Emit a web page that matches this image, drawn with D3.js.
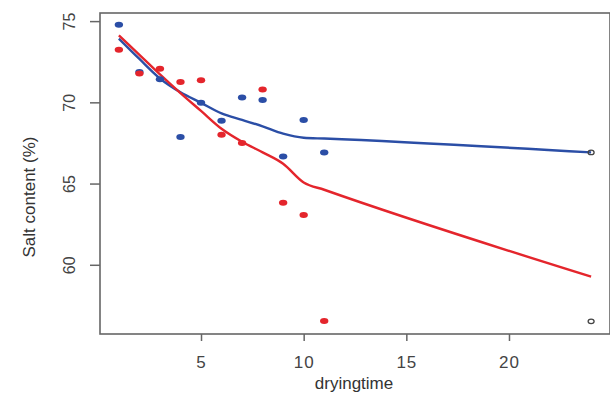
<!DOCTYPE html>
<html>
<head>
<meta charset="utf-8">
<script src="https://cdn.jsdelivr.net/npm/d3@7.9.0/dist/d3.min.js"></script>
<style>
  body { margin: 0; background: #fff; }
  svg { display: block; font-family: "Liberation Sans", Arial, sans-serif; }
</style>
</head>
<body>
<svg width="610" height="400"></svg>
<script>
const dryingTime = [1, 2, 3, 4, 5, 6, 7, 8, 9, 10, 11];
const blueSalt = [74.8, 71.9, 71.45, 67.9, 70.0, 68.9, 70.33, 70.17, 66.7, 68.95, 66.95];
const redSalt = [73.27, 71.8, 72.1, 71.29, 71.39, 68.03, 67.52, 70.82, 63.85, 63.09, 56.57];

const openTime = [24, 24];
const openSalt = [66.95, 56.55];

const fitTime = [1, 2, 3, 4, 5, 6, 7, 8, 9, 10, 11, 24];
const blueFit = [73.95, 72.7, 71.5, 70.65, 70.0, 69.35, 68.95, 68.55, 68.1, 67.85, 67.8, 66.95];
const redFit = [74.15, 72.95, 71.75, 70.6, 69.5, 68.4, 67.6, 66.95, 66.25, 65.1, 64.65, 59.3];

const xTicks = [5, 10, 15, 20];
const yTicks = [60, 65, 70, 75];

const blue = '#2b4ea6';
const red = '#e4252c';
const axisGrey = '#666';

const svg = d3.select('svg');
const x = d3.scaleLinear().domain([0.08, 24.92]).range([100, 610]);
const y = d3.scaleLinear().domain([55.77, 75.53]).range([334, 13]);

// box
svg.append('rect')
  .attr('x', 100).attr('y', 13)
  .attr('width', 510).attr('height', 321)
  .attr('fill', 'none').attr('stroke', axisGrey).attr('stroke-width', 1.6);

// x axis
const xAxis = svg.append('g').attr('transform', 'translate(0,334)')
  .call(d3.axisBottom(x).tickValues(xTicks).tickSize(7).tickPadding(15));
xAxis.select('.domain').remove();
xAxis.selectAll('line').attr('stroke', axisGrey).attr('stroke-width', 1.5);
xAxis.selectAll('text').attr('font-size', 17).attr('fill', '#444')
  .attr('letter-spacing', 1)
  .attr('font-family', '"Liberation Sans", Arial, sans-serif');

// y axis
const yAxis = svg.append('g').attr('transform', 'translate(100,0)')
  .call(d3.axisLeft(y).tickValues(yTicks).tickSize(10).tickFormat(d3.format('d')));
yAxis.select('.domain').remove();
yAxis.selectAll('line').attr('stroke', axisGrey).attr('stroke-width', 1.5);
yAxis.selectAll('text')
  .attr('font-size', 16).attr('fill', '#444')
  .attr('font-family', '"Liberation Sans", Arial, sans-serif')
  .attr('text-anchor', 'middle')
  .attr('x', null).attr('dy', null)
  .attr('transform', d => `translate(-31,${y(d)}) rotate(-90)`)
  .attr('y', 0).attr('dominant-baseline', 'central');
yAxis.selectAll('.tick').attr('transform', null);
yAxis.selectAll('.tick line').attr('y1', d => y(d)).attr('y2', d => y(d));

// axis titles
svg.append('text')
  .attr('x', 354).attr('y', 389)
  .attr('text-anchor', 'middle')
  .attr('font-size', 17).attr('fill', '#333')
  .text('dryingtime');

svg.append('text')
  .attr('transform', 'translate(35,197) rotate(-90)')
  .attr('text-anchor', 'middle')
  .attr('font-size', 17).attr('fill', '#333')
  .text('Salt content (%)');

// fitted lines
const line = d3.line().x(d => x(d[0])).y(d => y(d[1])).curve(d3.curveMonotoneX);
svg.append('path')
  .attr('d', line(d3.zip(fitTime, blueFit)))
  .attr('fill', 'none').attr('stroke', blue).attr('stroke-width', 2.4);
svg.append('path')
  .attr('d', line(d3.zip(fitTime, redFit)))
  .attr('fill', 'none').attr('stroke', red).attr('stroke-width', 2.4);

// points
svg.selectAll('.pb').data(dryingTime).enter().append('ellipse')
  .attr('cx', d => x(d)).attr('cy', (d, i) => y(blueSalt[i]))
  .attr('rx', 4.2).attr('ry', 3).attr('fill', blue);
svg.selectAll('.pr').data(dryingTime).enter().append('ellipse')
  .attr('cx', d => x(d)).attr('cy', (d, i) => y(redSalt[i]))
  .attr('rx', 4.2).attr('ry', 3).attr('fill', red);

svg.selectAll('.po').data(openTime).enter().append('ellipse')
  .attr('cx', d => x(d)).attr('cy', (d, i) => y(openSalt[i]))
  .attr('rx', 3).attr('ry', 2.3)
  .attr('fill', 'none').attr('stroke', '#444').attr('stroke-width', 1.3);
</script>
</body>
</html>
